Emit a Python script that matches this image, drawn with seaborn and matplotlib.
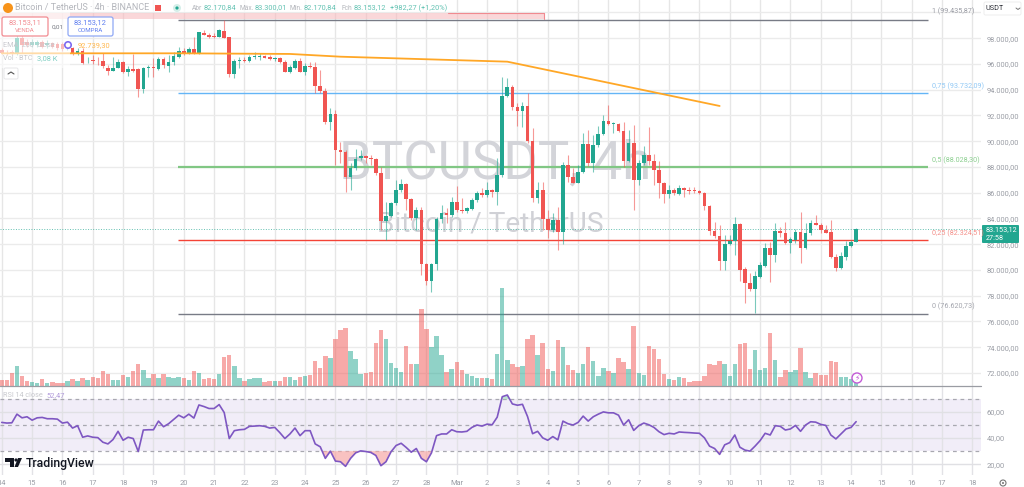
#!/usr/bin/env python
"""BTCUSDT 4h chart with fibonacci levels, volume and RSI panes."""

import matplotlib.pyplot as plt
from matplotlib.patches import Circle, FancyBboxPatch, Polygon, Rectangle
import numpy as np
import pandas as pd
import seaborn as sns

# 4h candles, index 0 is 14 Feb 00:00
opens = [
    97090, 96960, 96960, 96830, 97990, 97730, 97480, 97480, 97730, 97450,
    97610, 97550, 97550, 97220, 97270, 96830, 97040, 96130, 96340, 96260,
    96260, 95660, 95480, 95710, 96180, 95400, 95610, 95610, 94030, 95690,
    95710, 95610, 96390, 95870, 96130, 96570, 97040, 96830, 97160, 96830,
    98430, 98280, 98170, 98120, 98590, 98070, 95220, 96210, 96310, 96230,
    96540, 96540, 96620, 96520, 96390, 96490, 96130, 95400, 95710, 96230,
    95400, 95870, 95790, 94290, 93930, 91520, 92120, 89320, 89190, 87200,
    87900, 88670, 88850, 88700, 88600, 87560, 83800, 84220, 85180, 86210,
    86680, 85490, 84060, 84690, 80440, 79140, 80470, 83960, 84430, 84300,
    85310, 84690, 84610, 84760, 85430, 86000, 85820, 86190, 86060, 87380,
    93510, 94240, 92690, 92350, 92740, 89990, 85570, 86190, 83930, 83110,
    83880, 82920, 88150, 87250, 86780, 87590, 89790, 88280, 89710, 90560,
    91550, 91340, 91340, 90800, 88470, 89890, 86990, 88340, 88910, 88470,
    87770, 86780, 85880, 86190, 85900, 86370, 86210, 86190, 86130, 85980,
    84990, 83050, 82640, 80670, 82000, 82250, 83570, 80050, 79020, 78550,
    79480, 80340, 81680, 81190, 83050, 82870, 82070, 82330, 82980, 81680,
    82870, 83620, 83520, 83080, 82920, 80980, 80150, 81040, 81860, 82170,
]
closes = [
    96880, 96910, 96880, 97990, 97480, 97480, 97730, 97680, 97350, 97660,
    97350, 97220, 97140, 97610, 96880, 97040, 96050, 96180, 96210, 96210,
    95840, 95480, 95710, 96180, 95400, 95610, 95480, 94030, 95660, 95740,
    95690, 96390, 95920, 96180, 96650, 97040, 96830, 97160, 96830, 98460,
    98280, 98070, 98120, 98640, 98040, 95220, 96260, 96310, 96260, 96570,
    96590, 96590, 96490, 96390, 96460, 96130, 95400, 95740, 96230, 95400,
    95870, 95790, 94290, 93930, 91470, 92120, 89320, 89190, 87200, 87920,
    88620, 88850, 88700, 88600, 87560, 83800, 84220, 85180, 86210, 86680,
    85490, 84060, 84690, 80440, 79140, 80470, 83960, 84430, 84300, 85310,
    84690, 84610, 84790, 85460, 86000, 85850, 86210, 86060, 87380, 93510,
    94240, 92690, 92350, 92740, 89990, 85570, 86190, 83930, 83110, 83880,
    82920, 88150, 87250, 86780, 87590, 89790, 88280, 89710, 90560, 91550,
    91310, 91370, 90800, 88470, 89890, 86990, 88340, 88910, 88470, 87770,
    86780, 85880, 86190, 85950, 86370, 86210, 86160, 86130, 85980, 84990,
    83050, 82640, 80670, 82020, 82250, 83570, 80000, 79020, 78550, 79510,
    80390, 81680, 81190, 83050, 82870, 82070, 82410, 82980, 81680, 82870,
    83620, 83520, 83080, 82900, 80980, 80130, 81090, 81860, 82150, 83153,
]
highs = [
    97220, 97090, 97090, 98380, 98380, 97920, 97920, 97850, 97850, 97850,
    97730, 97730, 97730, 97730, 97350, 97220, 97220, 96570, 96700, 96570,
    96830, 95920, 96570, 96360, 96210, 95840, 96750, 95660, 95790, 95920,
    96440, 96570, 96570, 96700, 96960, 97350, 97220, 97350, 98070, 98480,
    98640, 98430, 98380, 98690, 99420, 98100, 96360, 96520, 96570, 96700,
    96960, 96830, 96700, 96700, 96570, 96570, 96310, 95920, 96360, 96440,
    96050, 96180, 96180, 95530, 94110, 92560, 92430, 89970, 89320, 88280,
    89370, 89320, 88930, 88930, 88670, 88020, 85310, 85310, 86990, 87040,
    86730, 85570, 84920, 84920, 80520, 80520, 84140, 85050, 84790, 85690,
    86520, 85570, 84920, 85570, 86140, 86340, 86860, 86260, 88670, 95020,
    94890, 94370, 92940, 93070, 93720, 91000, 86860, 86860, 84660, 84400,
    84920, 88410, 88930, 87900, 88150, 90610, 90870, 90480, 91180, 92040,
    92810, 91520, 91390, 91520, 90870, 91260, 88540, 89660, 91080, 89010,
    88490, 86860, 86600, 86390, 86600, 86470, 86470, 86470, 86210, 86030,
    85050, 83700, 83490, 82720, 82720, 84090, 83680, 80210, 79740, 79950,
    80650, 82070, 82200, 83620, 83360, 83750, 82590, 83160, 84530, 83620,
    83880, 84270, 83620, 83490, 83880, 81220, 81420, 82250, 82330, 83300,
]
lows = [
    96780, 96700, 96700, 96700, 96830, 97350, 97350, 97350, 97220, 97250,
    97220, 97090, 97000, 97090, 96700, 96700, 96000, 96050, 95970, 95920,
    95660, 95140, 95460, 95660, 95270, 95070, 95400, 93410, 93720, 95010,
    95010, 95530, 95660, 95400, 95920, 96440, 96700, 96780, 96750, 96800,
    98250, 98040, 98040, 98070, 97990, 94960, 94890, 95660, 96180, 96180,
    96390, 96310, 96440, 96310, 96260, 96050, 95350, 95270, 95610, 95350,
    95140, 95660, 93720, 93720, 91340, 90880, 88150, 88280, 86080, 86210,
    87770, 88540, 88280, 88150, 87380, 83110, 82330, 84140, 85050, 86080,
    84660, 83880, 83110, 79610, 78830, 78260, 80000, 83620, 83620, 84140,
    84530, 84450, 84400, 84660, 85310, 85690, 85690, 85690, 85050, 87250,
    93410, 92430, 91180, 91130, 89840, 85310, 85180, 83110, 82460, 82980,
    81550, 81990, 86860, 86730, 86730, 87510, 88080, 87640, 89580, 90480,
    91260, 90610, 90740, 88020, 88410, 84660, 86600, 88150, 88150, 86600,
    85570, 85180, 85620, 85820, 85820, 85640, 85880, 85950, 85900, 84660,
    82720, 82460, 80000, 80000, 81940, 81160, 79170, 77460, 78370, 76630,
    79350, 80260, 79040, 80590, 82590, 82020, 81290, 82070, 80570, 81630,
    82720, 83490, 82850, 82850, 80900, 79920, 80080, 80780, 81810, 82170,
]
volumes = [
    4.75, 4.75, 9.75, 14.75, 7.25, 3.75, 3.0, 2.5, 5.0, 2.5,
    2.75, 2.5, 2.0, 3.5, 5.0, 3.5, 6.0, 4.75, 7.0, 6.0,
    11.0, 8.75, 4.25, 4.25, 8.0, 6.5, 11.0, 16.75, 12.0, 5.75,
    8.75, 6.0, 9.0, 6.75, 5.75, 7.0, 6.0, 4.25, 11.0, 9.5,
    5.5, 6.0, 5.25, 8.75, 21.75, 23.0, 15.0, 6.0, 3.75, 5.25,
    6.0, 6.0, 2.75, 3.5, 3.5, 3.5, 7.0, 7.0, 4.25, 7.0,
    7.75, 8.0, 18.5, 13.75, 22.5, 21.25, 35.25, 42.25, 43.25, 26.0,
    20.5, 9.0, 9.5, 10.25, 32.0, 42.25, 35.0, 17.0, 13.75, 10.25,
    29.75, 16.75, 16.75, 57.75, 43.0, 29.0, 37.5, 23.5, 10.5, 12.5,
    17.75, 12.0, 9.0, 7.5, 6.0, 6.0, 5.75, 5.5, 24.25, 73.25,
    19.25, 16.25, 14.5, 15.25, 35.25, 38.5, 23.5, 32.0, 12.5, 11.25,
    34.5, 29.5, 15.75, 12.0, 10.0, 16.5, 29.5, 18.75, 7.25, 13.25,
    11.0, 9.75, 20.75, 17.75, 12.5, 45.25, 10.0, 8.5, 29.75, 27.75,
    20.0, 8.75, 5.25, 4.75, 6.5, 5.75, 3.0, 3.5, 3.75, 7.75,
    16.75, 15.5, 18.5, 16.25, 7.25, 16.25, 31.25, 32.5, 12.75, 26.75,
    11.75, 13.75, 40.0, 19.75, 6.75, 11.75, 10.5, 11.75, 28.5, 10.75,
    6.0, 9.5, 8.0, 8.25, 18.75, 18.0, 6.5, 6.75, 5.5, 3.08,
]
rsi = [
    51.9, 51.4, 51.6, 58.2, 55.4, 56.2, 53.6, 55.4, 55.7, 54.7,
    54.7, 54.4, 51.4, 52.1, 47.6, 49.4, 40.6, 41.6, 40.6, 40.3,
    36.8, 35.5, 38.8, 45.1, 38.3, 40.6, 39.6, 29.7, 46.1, 46.3,
    46.3, 52.9, 48.6, 50.9, 54.1, 57.4, 55.4, 58.2, 55.2, 65.2,
    64.0, 62.5, 62.5, 65.5, 59.4, 39.6, 45.6, 46.3, 46.6, 48.9,
    49.1, 49.4, 48.9, 47.6, 48.1, 44.1, 39.6, 43.1, 47.6, 41.8,
    45.6, 45.6, 35.5, 33.3, 24.5, 30.0, 22.4, 21.9, 18.4, 24.5,
    28.7, 30.2, 29.7, 29.0, 26.7, 18.9, 21.9, 29.5, 34.3, 36.0,
    32.8, 29.2, 32.0, 24.5, 21.9, 28.7, 41.8, 43.1, 43.1, 46.3,
    44.8, 44.6, 45.1, 48.1, 49.9, 49.1, 50.6, 50.1, 55.9, 71.5,
    72.8, 66.0, 65.0, 65.7, 56.4, 43.3, 45.1, 40.1, 38.3, 41.1,
    38.6, 52.9, 50.9, 49.9, 51.9, 56.7, 52.9, 56.2, 58.2, 59.9,
    59.2, 59.2, 57.4, 49.9, 53.9, 45.8, 49.4, 51.4, 50.1, 48.1,
    44.8, 42.6, 43.6, 43.1, 44.6, 44.3, 44.1, 43.8, 43.6, 40.1,
    33.8, 32.0, 27.5, 34.8, 36.5, 42.3, 33.0, 30.8, 30.0, 33.8,
    38.0, 43.6, 42.3, 49.4, 48.9, 46.1, 46.9, 49.6, 45.1, 49.9,
    52.4, 52.1, 50.4, 49.6, 42.3, 39.3, 43.1, 46.9, 48.1, 52.47,
]

ema_bars = [0, 35, 57, 67, 100, 142]
ema_values = [96830, 96830, 96780, 96567, 96180, 92739]

fib_ratios = ['1', '0,75', '0,5', '0,25', '0']
fib_prices = [99435.87, 93732.09, 88028.30, 82324.51, 76620.73]
fib_colors = ['#787b86', '#64b5f6', '#81c784', '#f44336', '#787b86']
fib_widths = [1.0, 1.0, 1.6, 1.0, 1.0]
fib_start, fib_end = 34.9, 183.2

price_ticks = list(range(72000, 100001, 2000))
rsi_ticks = [20, 40, 60]
rsi_levels = [30, 50, 70]
day_labels = [str(d) for d in range(14, 29)] + ['Mar'] + [str(d) for d in range(2, 19)]

UP = '#22a690'
DOWN = '#f05552'
GRID = '#ebebeb'
AXIS_TEXT = '#9a9da5'
SMALL = 5.4

sns.set_theme(style='white')
plt.rcParams['font.family'] = ['Roboto', 'DejaVu Sans']

df = pd.DataFrame({'bar': np.arange(len(closes)), 'open': opens, 'high': highs, 'low': lows,
                   'close': closes, 'volume': volumes, 'rsi': rsi})
df['side'] = np.where(df['close'] >= df['open'], 'up', 'down')
colors = df['side'].map({'up': UP, 'down': DOWN})


def price_label(v):
    return f'{v:,.2f}'.replace(',', ' ').replace('.', ',').replace(' ', '.')


W, H = 1024, 487
fig = plt.figure(figsize=(W / 100, H / 100), dpi=100, facecolor='white')
ax = fig.add_axes([0, (H - 386) / H, 981 / W, 386 / H])
vol_ax = ax.twinx()
ax_rsi = fig.add_axes([0, (H - 475) / H, 981 / W, 88 / H])
top = fig.add_axes([0, 0, 1, 1], zorder=10)
top.set_xlim(0, W)
top.set_ylim(H, 0)
top.axis('off')
top.patch.set_alpha(0)

day_ticks = np.arange(len(day_labels)) * 6
xlim = (-0.35, 193.7)

# price pane
ax.set_zorder(1)
vol_ax.set_zorder(2)
vol_ax.patch.set_alpha(0)
ax.set_xlim(*xlim)
ax.set_ylim(70990, 100970)
ax.set_yticks(price_ticks)
ax.set_yticklabels([price_label(p) if p < 100000 else '' for p in price_ticks],
                   fontsize=SMALL, color=AXIS_TEXT)
ax.yaxis.tick_right()
ax.tick_params(axis='y', length=0, pad=4)
ax.set_xticks(day_ticks)
ax.tick_params(axis='x', length=0, labelbottom=False)
ax.grid(True, axis='y', color=GRID, lw=1)
ax.grid(True, axis='x', color='#e6e6e6', lw=1)
ax.set_axisbelow(True)

ax.text(97.5, 88250, 'BTCUSDT, 4h', ha='center', va='center', fontsize=38, color='#d3d4d9', zorder=1)
ax.text(96.6, 83570, 'Bitcoin / TetherUS', ha='center', va='center', fontsize=20.2, color='#d0d1d6', zorder=1)

ax.axhline(closes[-1], color=UP, lw=0.7, ls=':', alpha=0.7, zorder=1.5)
ax.hlines(fib_prices, fib_start, fib_end, colors=fib_colors, linewidths=fib_widths, zorder=1.6)
ax.vlines(df['bar'], df['low'], df['high'], colors=colors, linewidth=0.8, alpha=0.6, zorder=2)
ax.bar(df['bar'], (df['close'] - df['open']).abs().clip(lower=40), bottom=df[['open', 'close']].min(axis=1),
       width=0.72, color=colors, linewidth=0, zorder=3)
sns.lineplot(x=ema_bars, y=ema_values, color='#ffa726', lw=1.3, ax=ax, zorder=4)

# volume pane shares the price pane
sns.barplot(data=df, x='bar', y='volume', hue='side', palette={'up': UP, 'down': DOWN}, native_scale=True,
            dodge=False, width=0.88, alpha=0.5, saturation=1, legend=False, linewidth=0, ax=vol_ax)
vol_ax.set_xlim(*xlim)
vol_ax.set_ylim(0, 289.5)
vol_ax.axis('off')

# RSI pane
ax_rsi.set_xlim(*xlim)
ax_rsi.set_ylim(11.8, 78.9)
ax_rsi.axhspan(rsi_levels[0], rsi_levels[-1], color='#7e57c2', alpha=0.1, lw=0, zorder=0.5)
ax_rsi.set_yticks(rsi_ticks)
ax_rsi.set_yticklabels([price_label(t) for t in rsi_ticks], fontsize=SMALL, color=AXIS_TEXT)
ax_rsi.yaxis.tick_right()
ax_rsi.set_xticks(day_ticks)
ax_rsi.set_xticklabels(day_labels, fontsize=SMALL, color=AXIS_TEXT)
ax_rsi.tick_params(axis='both', length=0)
ax_rsi.tick_params(axis='x', pad=3.5)
ax_rsi.tick_params(axis='y', pad=4)
ax_rsi.grid(True, axis='y', color='#e0e0e4', lw=1)
ax_rsi.grid(True, axis='x', color='#e2e2e6', lw=1)
ax_rsi.set_axisbelow(True)
for level in rsi_levels:
    ax_rsi.axhline(level, color='#a8a8b0', lw=0.9, ls=(0, (3, 3)), zorder=1)
ax_rsi.fill_between(df['bar'], df['rsi'], 30, where=df['rsi'] < 30, interpolate=True,
                    color='#f7a9a7', alpha=0.7, lw=0, zorder=1)
ax_rsi.fill_between(df['bar'], df['rsi'], 70, where=df['rsi'] > 70, interpolate=True,
                    color='#a5dcc0', alpha=0.7, lw=0, zorder=1)
sns.lineplot(data=df, x='bar', y='rsi', color='#7e57c2', lw=1.2, ax=ax_rsi, zorder=3)
ax_rsi.set_xlabel('')
ax_rsi.set_ylabel('')
ax.set_xlabel('')
ax.set_ylabel('')
for a in (ax, ax_rsi):
    sns.despine(ax=a, left=True, bottom=True, right=True, top=True)

# pane separator, pink band and faded legend block
top.plot([0, 981], [386, 386], color='#9a9ca3', lw=0.9)
top.add_patch(Rectangle((0, 12.5), 544, 6.5, fc='#f7b7bb', ec='none', alpha=0.55))
top.plot([448, 544, 544], [12.5, 12.5, 19], color='#f08a90', lw=0.8)
top.add_patch(Rectangle((0, 0), 70, 68, fc='white', ec='none', alpha=0.6))
top.add_patch(Rectangle((0, 0), 448, 11.5, fc='white', ec='none', alpha=0.75))

# header legend
top.add_patch(Circle((8, 8), 5, fc='#f7931a', ec='none'))
top.text(15, 8, 'Bitcoin / TetherUS · 4h · BINANCE', fontsize=6.5, color='#b4b6bc', va='center')
top.add_patch(Rectangle((155, 4.5), 6, 6, fc=DOWN, ec='none'))
top.add_patch(Circle((177, 8), 4, fc='#d5efe9', ec='none'))
top.add_patch(Circle((177, 8), 1.6, fc=UP, ec='none'))
head = [(192, 204, 'Abr', '82.170,84'), (240, 255, 'Máx.', '83.300,01'),
        (290, 304, 'Mín.', '82.170,84'), (341, 354, 'Fch', '83.153,12')]
for x0, x1, name, val in head:
    top.text(x0, 8, name, fontsize=4.8, color='#b4b6bc', va='center')
    top.text(x1, 8, val, fontsize=5.3, color='#62c2b2', va='center')
top.text(390, 8, '+982,27 (+1,20%)', fontsize=5.3, color='#62c2b2', va='center')

for x0, w, col, val, name in [(2, 46, '#f28b91', '83.153,11', 'VENDA'), (68, 45, '#8fa8f5', '83.153,12', 'COMPRA')]:
    top.add_patch(FancyBboxPatch((x0 + 1, 18), w - 2, 17, boxstyle='round,pad=1,rounding_size=2',
                                 fc='white', ec=col, lw=0.9))
    top.text(x0 + w / 2, 23, val, fontsize=5.4, color=col if name == 'VENDA' else '#5f7ff0', ha='center', va='center')
    top.text(x0 + w / 2, 31, name, fontsize=4.4, color=col if name == 'VENDA' else '#5f7ff0', ha='center', va='center')
top.text(52, 27, '0,01', fontsize=4.6, color='#777a82', va='center')

top.text(3, 45.5, 'EMA  200  close', fontsize=5.2, color='#c8c9ce', va='center')
top.add_patch(Circle((68, 45), 3.2, fc='white', ec='#7e6bf0', lw=1.2))
top.text(78, 45.5, '92.739,30', fontsize=5.4, color='#ffb74d', va='center')
top.text(3, 59, 'Vol · BTC', fontsize=5.2, color='#c8c9ce', va='center')
top.text(37, 59, '3,08 K', fontsize=5.4, color='#7fcfc2', va='center')
top.add_patch(FancyBboxPatch((5, 69), 12, 9, boxstyle='round,pad=1,rounding_size=1.5',
                             fc='white', ec='#e6e6e8', lw=0.7))
top.plot([8, 11, 14], [74, 72, 74], color='#555', lw=0.8)

# right side labels
fib_label_y = [11.5, 86.5, 160, 233, 306]
fib_label_colors = ['#9b9da5', '#90c8f5', '#8ccf90', '#f4908a', '#a4a6ae']
for ratio, price, col, y in zip(fib_ratios, fib_prices, fib_label_colors, fib_label_y):
    top.text(932, y, f'{ratio} ({price_label(price)})', fontsize=5.2, color=col, va='center')

top.add_patch(FancyBboxPatch((984, 2), 37, 13, boxstyle='round,pad=0,rounding_size=1.5',
                             fc='white', ec='#eeeeee', lw=0.7))
top.text(986, 8.5, 'USDT', fontsize=5.2, color='#30323a', va='center')
top.plot([1016, 1018, 1020], [8, 9.5, 8], color='#777', lw=0.7)

top.add_patch(FancyBboxPatch((982, 225), 37, 18, boxstyle='round,pad=0,rounding_size=1', fc=UP, ec='none'))
top.text(986, 230, price_label(83153.12), fontsize=5.2, color='white', va='center')
top.text(986, 238, '27:58', fontsize=5.2, color='white', va='center')

top.text(3, 395.5, 'RSI 14 close', fontsize=5.2, color='#c8c9ce', va='center')
top.text(46, 395.5, '52,47', fontsize=5.4, color='#b39ddb', va='center')

# tradingview mark
top.add_patch(Polygon([(5, 458), (14, 458), (14, 467), (10, 467), (10, 461.5), (5, 461.5)], fc='#131722', ec='none'))
top.add_patch(Circle((16, 460), 1.6, fc='#131722', ec='none'))
top.add_patch(Polygon([(18, 458), (22, 458), (18, 467), (14.5, 467)], fc='#131722', ec='none'))
top.text(26, 463, 'TradingView', fontsize=8.8, color='#131722', va='center', fontweight='medium')

# alert bolt and settings marks
top.add_patch(Circle((857, 378), 5, fc='white', ec='#c25ad6', lw=1))
top.text(857, 378, '⚡', fontsize=5.5, color='#c25ad6', ha='center', va='center', family='DejaVu Sans')
top.add_patch(Circle((1003, 483), 3, fc='white', ec='#777', lw=0.8))
top.add_patch(Circle((1003, 483), 1, fc='#777', ec='none'))

plt.savefig('out.png', dpi=100, facecolor='white')
plt.close()
